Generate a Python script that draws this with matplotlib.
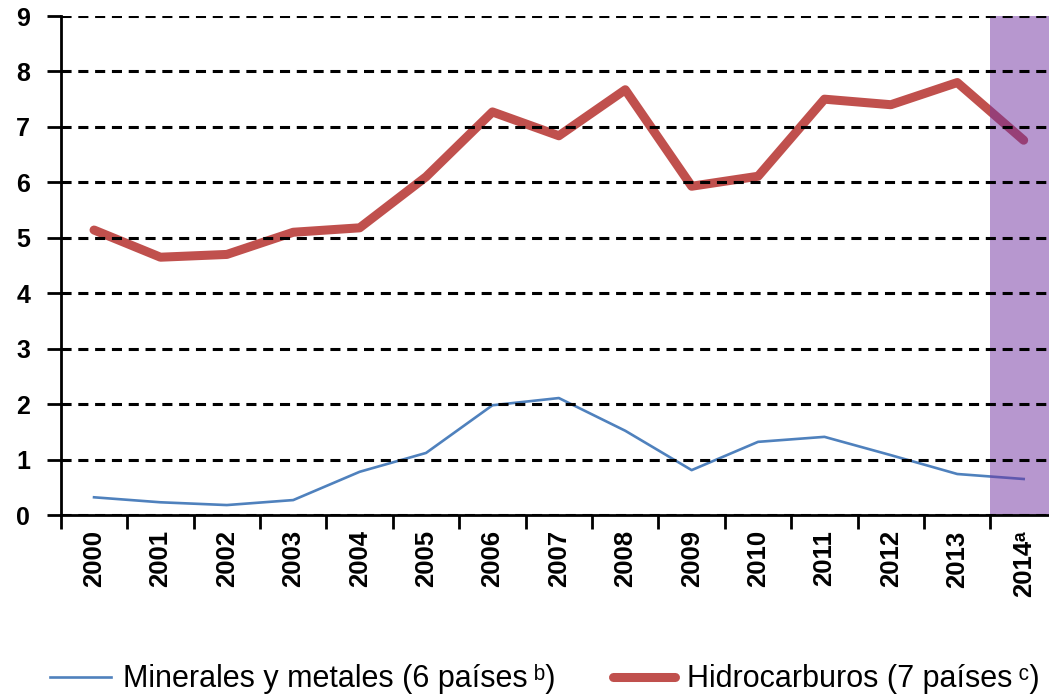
import matplotlib
matplotlib.use("Agg")
import matplotlib.pyplot as plt
import numpy as np

plt.rcParams["font.family"] = ["Liberation Sans", "DejaVu Sans"]

# Values
years = ["2000", "2001", "2002", "2003", "2004", "2005", "2006", "2007",
         "2008", "2009", "2010", "2011", "2012", "2013", "2014\u1d43"]
minerales = [0.32, 0.23, 0.18, 0.27, 0.78, 1.12, 1.98, 2.11,
             1.52, 0.81, 1.32, 1.41, 1.08, 0.74, 0.65]
hidrocarburos = [5.14, 4.65, 4.70, 5.10, 5.18, 6.10, 7.27, 6.84,
                 7.67, 5.93, 6.11, 7.50, 7.40, 7.80, 6.76]
y_ticks = list(range(0, 10))

fig = plt.figure(figsize=(10.49, 6.96), dpi=100)
ax = fig.add_axes([0.058, 0.26, 0.9495, 0.717])

x = np.arange(len(years))
ax.plot(x, minerales, color="#4F81BD", lw=1.9, zorder=1.5,
        label="Minerales y metales (6 países\u2009\u1d47)")
ax.plot(x, hidrocarburos, color="#C0504D", lw=6.5, zorder=1.6,
        solid_capstyle="round", label="Hidrocarburos (7 países\u2009\u1d9c)")

# shaded projection year
ax.axvspan(len(years) - 1.5, len(years) - 0.5, color="#7030A0", alpha=0.5,
           lw=0, zorder=2)

ax.set_xlim(-0.5, len(years) - 0.5)
ax.set_ylim(0, 9)
ax.set_yticks(y_ticks)
ax.set_yticklabels([str(v) for v in y_ticks], fontsize=18, fontweight="bold")

ax.set_xticks(x)
ax.set_xticklabels(years, rotation=90, fontsize=18.5, fontweight="bold")
ax.set_xticks(np.arange(-0.5, len(years)), minor=True)
ax.tick_params(axis="x", which="major", length=0, pad=11)
ax.tick_params(axis="x", which="minor", length=10, width=2, direction="out")
ax.tick_params(axis="y", length=10, width=2, direction="out", pad=12)

ax.set_axisbelow(False)
ax.yaxis.grid(True, color="black", lw=2.2, linestyle=(0, (3.3, 2.2)))
ax.xaxis.grid(False)

for side in ["top", "right"]:
    ax.spines[side].set_visible(False)
for side in ["left", "bottom"]:
    ax.spines[side].set_linewidth(2)
    ax.spines[side].set_zorder(3)

fig.legend(loc="center", bbox_to_anchor=(0.519, 0.024), ncol=2, frameon=False,
           fontsize=22, handlelength=2.0, handletextpad=0.4, columnspacing=1.9)

fig.savefig("out.png", dpi=100)
